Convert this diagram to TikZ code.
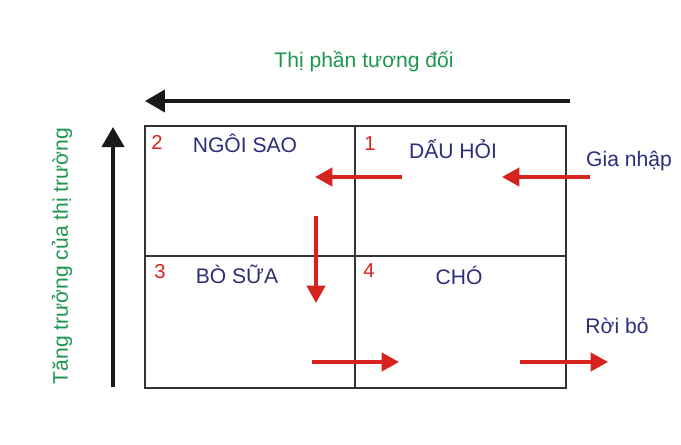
\documentclass[tikz,border=0pt]{standalone}
\usepackage{fontspec}
\setmainfont{Liberation Sans}
\usetikzlibrary{arrows.meta}
\definecolor{axisgreen}{RGB}{30,150,80}
\definecolor{quadnavy}{RGB}{45,45,120}
\definecolor{movered}{RGB}{215,35,30}
\tikzset{
	axisarrow/.style={line width=0.8mm, color=black!90, -{Triangle[length=4mm,width=4.4mm]}},
	movearrow/.style={line width=0.65mm, color=movered, -{Triangle[length=3.5mm,width=3.7mm]}},
	gridline/.style={line width=0.35mm, color=black!80},
	quadname/.style={color=quadnavy, font=\fontsize{12}{14}\selectfont, anchor=base},
	quadnum/.style={color=movered, font=\fontsize{11.5}{13}\selectfont, anchor=base},
	axislabel/.style={color=axisgreen, font=\fontsize{12}{14}\selectfont},
}
\begin{document}
\begin{tikzpicture}[x=0.02cm, y=-0.02cm]
			%%%%% START %%%%%
			\useasboundingbox (0, 0) rectangle (681, 444);
			
			% matrix
			\draw[gridline] (145, 126) rectangle (566, 388);
			\draw[gridline] (355, 126) -- (355, 388);
			\draw[gridline] (145, 256) -- (566, 256);
			
			% axes
			\coordinate (shareTail) at (570, 101);
			\coordinate (shareTip) at (145, 101);
			\draw[axisarrow] (shareTail) -- (shareTip);
			\node[axislabel, anchor=base] (shareLabel) at (364, 67) {Thị phần tương đối};
			
			\coordinate (growthTail) at (113, 387);
			\coordinate (growthTip) at (113, 127);
			\draw[axisarrow] (growthTail) -- (growthTip);
			\node[axislabel, rotate=90] (growthLabel) at (62, 256) {Tăng trưởng của thị trường};
			
			% quadrants
			\node[quadnum] (numStar) at (157, 149) {2};
			\node[quadname] (star) at (245, 152) {NGÔI SAO};
			\node[quadnum] (numQuestion) at (370, 150) {1};
			\node[quadname] (question) at (453, 158) {DẤU HỎI};
			\node[quadnum] (numCow) at (160, 278) {3};
			\node[quadname] (cow) at (237, 283) {BÒ SỮA};
			\node[quadnum] (numDog) at (369, 277) {4};
			\node[quadname] (dog) at (459, 284) {CHÓ};
			
			\node[quadname] (enter) at (629, 166) {Gia nhập};
			\node[quadname] (leave) at (617, 333) {Rời bỏ};
			
			% movements
			\coordinate (enterTail) at (590, 177);
			\coordinate (enterTip) at (502, 177);
			\coordinate (riseTail) at (402, 177);
			\coordinate (riseTip) at (315, 177);
			\coordinate (fallTail) at (316, 216);
			\coordinate (fallTip) at (316, 303);
			\coordinate (dropTail) at (312, 362);
			\coordinate (dropTip) at (399, 362);
			\coordinate (leaveTail) at (520, 362);
			\coordinate (leaveTip) at (608, 362);
			
			\draw[movearrow] (enterTail) -- (enterTip);
			\draw[movearrow] (riseTail) -- (riseTip);
			\draw[movearrow] (fallTail) -- (fallTip);
			\draw[movearrow] (dropTail) -- (dropTip);
			\draw[movearrow] (leaveTail) -- (leaveTip);
			%%%%% END %%%%%
\end{tikzpicture}
\end{document}
